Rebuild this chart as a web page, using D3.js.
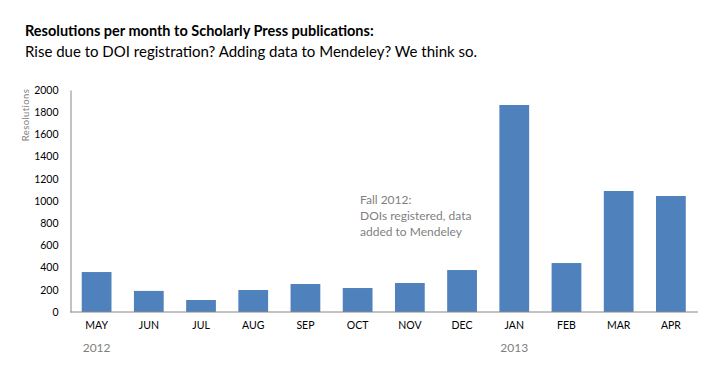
<!DOCTYPE html>
<html><head><meta charset="utf-8">
<script src="https://cdn.jsdelivr.net/npm/d3@7"></script>
<style>body{margin:0;background:#fff;} svg{display:block;}</style>
</head><body>
<svg id="c" width="712" height="379"></svg>
<script>
const months = ["MAY","JUN","JUL","AUG","SEP","OCT","NOV","DEC","JAN","FEB","MAR","APR"];
const resolutions = [360,190,108,198,252,216,261,378,1865,441,1090,1045];
const yTicks = [0,200,400,600,800,1000,1200,1400,1600,1800,2000];
const years = [{label:"2012", month:"MAY"},{label:"2013", month:"JAN"}];
const titleText = "Resolutions per month to Scholarly Press publications:";
const subtitleText = "Rise due to DOI registration? Adding data to Mendeley? We think so.";
const noteLines = ["Fall 2012:","DOIs registered, data","added to Mendeley"];

const svg = d3.select("#c");
const font = "Lato, 'Open Sans', sans-serif";
const m = {left:70.5, right:697, top:90, bottom:312};
const x = d3.scaleBand().domain(months).range([m.left, m.right]).paddingInner(0.43).paddingOuter(0.215);
const y = d3.scaleLinear().domain([0,2000]).range([m.bottom, m.top]);

svg.append("text").attr("x",25).attr("y",36).attr("font-family",font).attr("font-weight","bold")
  .attr("font-size",14.5).attr("fill","#000").text(titleText);
svg.append("text").attr("x",25).attr("y",57).attr("font-family",font)
  .attr("font-size",15).attr("fill","#000").text(subtitleText);

svg.append("g").selectAll("rect").data(resolutions).join("rect")
  .attr("x",(d,i)=>x(months[i])).attr("width",x.bandwidth())
  .attr("y",d=>y(d)).attr("height",d=>y(0)-y(d)).attr("fill","#4f81bd");

const ya = svg.append("g").attr("transform",`translate(${m.left},0)`)
  .call(d3.axisLeft(y).tickValues(yTicks).tickFormat(d3.format("d")).tickSize(0).tickPadding(12));
ya.select(".domain").attr("stroke","#868686");
ya.selectAll("text").attr("font-family",font).attr("font-size",10.5).attr("fill","#000");

const xa = svg.append("g").attr("transform",`translate(0,${m.bottom})`)
  .call(d3.axisBottom(x).tickSize(0).tickPadding(10));
xa.select(".domain").attr("stroke","#868686").attr("d",`M${m.left},0H${m.right+1}`);
xa.selectAll("text").attr("font-family",font).attr("font-size",10.5).attr("fill","#000");

svg.append("g").selectAll("text").data(years).join("text")
  .attr("x",d=>x(d.month)+x.bandwidth()/2).attr("y",352).attr("text-anchor","middle")
  .attr("font-family",font).attr("font-size",12).attr("fill","#7f7f7f").text(d=>d.label);

svg.append("text").attr("transform","translate(29,115) rotate(-90)").attr("text-anchor","middle")
  .attr("font-family",font).attr("font-size",9.5).attr("letter-spacing",0.4).attr("fill","#7f7f7f").text("Resolutions");

svg.append("g").selectAll("text").data(noteLines).join("text")
  .attr("x",360).attr("y",(d,i)=>204+i*16).attr("font-family",font).attr("font-size",12)
  .attr("fill","#7f7f7f").text(d=>d);
</script>
</body></html>
